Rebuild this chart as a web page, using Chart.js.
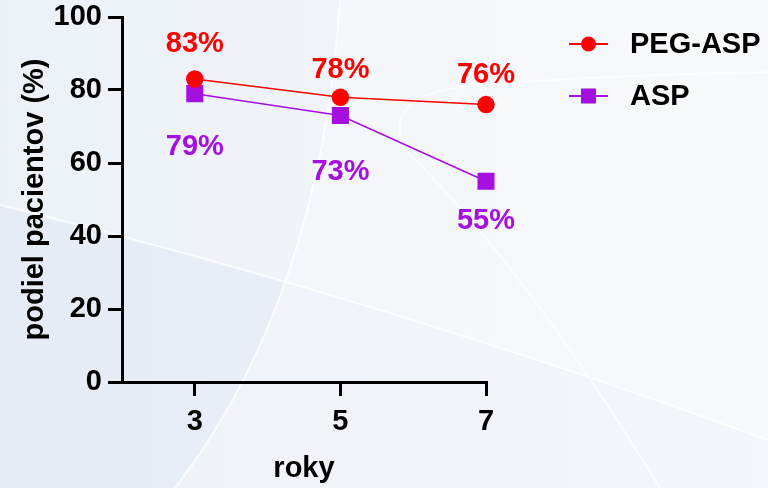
<!DOCTYPE html>
<html>
<head>
<meta charset="utf-8">
<script src="https://cdn.jsdelivr.net/npm/chart.js@4"></script>
<style>
  body { margin: 0; }
  #wrap { width: 768px; height: 488px; }
</style>
</head>
<body>
<div id="wrap"><canvas id="myLineChart" width="768" height="488"></canvas></div>
<script>
// data
var years = [3, 5, 7];
var pegAsp = [83, 78, 76];
var asp = [79, 73, 55];
var yTicks = [0, 20, 40, 60, 80, 100];

var RED = '#FF0000';
var PURPLE = '#A50FE0';
var FONT = '"Liberation Sans", Arial, sans-serif';

// background with the soft white swooshes
var bgPlugin = {
    id: 'bg',
    beforeDraw: function(chart) {
        var c = chart.ctx, w = chart.width, h = chart.height;
        c.save();
        var g = c.createLinearGradient(0, 0, w, 0);
        g.addColorStop(0, '#ECF1F8');
        g.addColorStop(0.5, '#F1F4F9');
        g.addColorStop(1, '#F8F9FB');
        c.fillStyle = g;
        c.fillRect(0, 0, w, h);

        // slightly darker band under the diagonal on the left
        c.fillStyle = 'rgba(214,225,241,0.3)';
        c.beginPath();
        c.moveTo(0, 205);
        c.quadraticCurveTo(384, 300, 768, 440);
        c.lineTo(768, 488);
        c.lineTo(0, 488);
        c.closePath();
        c.fill();
        c.fillStyle = 'rgba(248,249,252,0.5)';
        c.beginPath();
        c.moveTo(175, 488);
        c.quadraticCurveTo(320, 300, 340, 0);
        c.lineTo(768, 0);
        c.lineTo(768, 488);
        c.closePath();
        c.fill();

        c.strokeStyle = 'rgba(255,255,255,0.8)';
        c.lineWidth = 2;
        c.beginPath();
        c.moveTo(0, 205);
        c.quadraticCurveTo(384, 300, 768, 440);
        c.stroke();
        c.beginPath();
        c.moveTo(175, 488);
        c.quadraticCurveTo(320, 300, 340, 0);
        c.stroke();
        c.strokeStyle = 'rgba(255,255,255,0.65)';
        c.beginPath();
        c.moveTo(660, 488);
        c.quadraticCurveTo(520, 260, 405, 150);
        c.quadraticCurveTo(380, 95, 470, 86);
        c.quadraticCurveTo(600, 75, 768, 72);
        c.stroke();
        c.restore();
    }
};

// value labels and the legend on the right
var labelPlugin = {
    id: 'valueLabels',
    afterDatasetsDraw: function(chart, args, opts) {
        var c = chart.ctx;
        c.save();
        c.font = 'bold 29px ' + FONT;
        c.textAlign = 'center';
        c.textBaseline = 'middle';
        chart.data.datasets.forEach(function(ds, i) {
            var meta = chart.getDatasetMeta(i);
            meta.data.forEach(function(pt, j) {
                c.fillStyle = ds.borderColor;
                c.fillText(ds.data[j].y + '%', pt.x, pt.y + opts.shift[i][j]);
            });
        });

        // legend
        var lx = 569, tx = 630;
        chart.data.datasets.forEach(function(ds, i) {
            var ly = 44 + i * 52;
            c.strokeStyle = ds.borderColor;
            c.lineWidth = 2;
            c.beginPath();
            c.moveTo(lx, ly);
            c.lineTo(lx + 39, ly);
            c.stroke();
            c.fillStyle = ds.borderColor;
            if (ds.pointStyle === 'rect') {
                c.fillRect(lx + 12, ly - 7.5, 15, 15);
            } else {
                c.beginPath();
                c.arc(lx + 19.5, ly, 7.5, 0, Math.PI * 2);
                c.fill();
            }
            c.fillStyle = '#000';
            c.textAlign = 'left';
            c.fillText(ds.label, tx, ly + 1);
        });
        c.restore();
    }
};

var ctx = document.getElementById('myLineChart').getContext('2d');
var chart = new Chart(ctx, {
    type: 'line',
    data: {
        datasets: [{
            label: 'PEG-ASP',
            data: years.map(function(x, i) { return {x: x, y: pegAsp[i]}; }),
            borderColor: RED,
            backgroundColor: RED,
            borderWidth: 1.5,
            pointStyle: 'circle',
            pointRadius: 8,
            pointHoverRadius: 8,
            clip: false
        }, {
            label: 'ASP',
            data: years.map(function(x, i) { return {x: x, y: asp[i]}; }),
            borderColor: PURPLE,
            backgroundColor: PURPLE,
            borderWidth: 1.5,
            pointStyle: 'rect',
            pointRadius: 11,
            pointHoverRadius: 11,
            clip: false
        }]
    },
    options: {
        responsive: false,
        animation: false,
        layout: { padding: { left: 0, right: 282, top: 17, bottom: 0 } },
        plugins: {
            legend: { display: false },
            tooltip: { enabled: false },
            valueLabels: { shift: [[-35, -27, -30], [53, 56, 40]] }
        },
        scales: {
            x: {
                type: 'linear',
                min: 2,
                max: 7,
                afterBuildTicks: function(scale) {
                    scale.ticks = years.map(function(v) { return {value: v}; });
                },
                afterFit: function(scale) {
                    scale.height = 106;
                    scale.paddingLeft = 0;
                    scale.paddingRight = 0;
                },
                border: { display: true, color: '#000', width: 3 },
                grid: { drawOnChartArea: false, drawTicks: true, tickLength: 14, color: '#000', lineWidth: 3 },
                ticks: { color: '#000', padding: 9, font: { family: FONT, size: 29, weight: 'bold' } },
                title: {
                    display: true, text: 'roky', color: '#000',
                    font: { family: FONT, size: 29, weight: 'bold' },
                    padding: { top: 0, bottom: 2 }
                }
            },
            y: {
                min: 0,
                max: 100,
                afterBuildTicks: function(scale) {
                    scale.ticks = yTicks.map(function(v) { return {value: v}; });
                },
                afterFit: function(scale) {
                    scale.width = 122;
                    scale.paddingTop = 0;
                    scale.paddingBottom = 0;
                },
                border: { display: true, color: '#000', width: 3 },
                grid: { drawOnChartArea: false, drawTicks: true, tickLength: 14, color: '#000', lineWidth: 3 },
                ticks: { color: '#000', padding: 6, font: { family: FONT, size: 29, weight: 'bold' } },
                title: {
                    display: true, text: 'podiel pacientov (%)', color: '#000',
                    font: { family: FONT, size: 29, weight: 'bold' },
                    padding: { top: 18, bottom: 0 }
                }
            }
        }
    },
    plugins: [bgPlugin, labelPlugin]
});
</script>
</body>
</html>
